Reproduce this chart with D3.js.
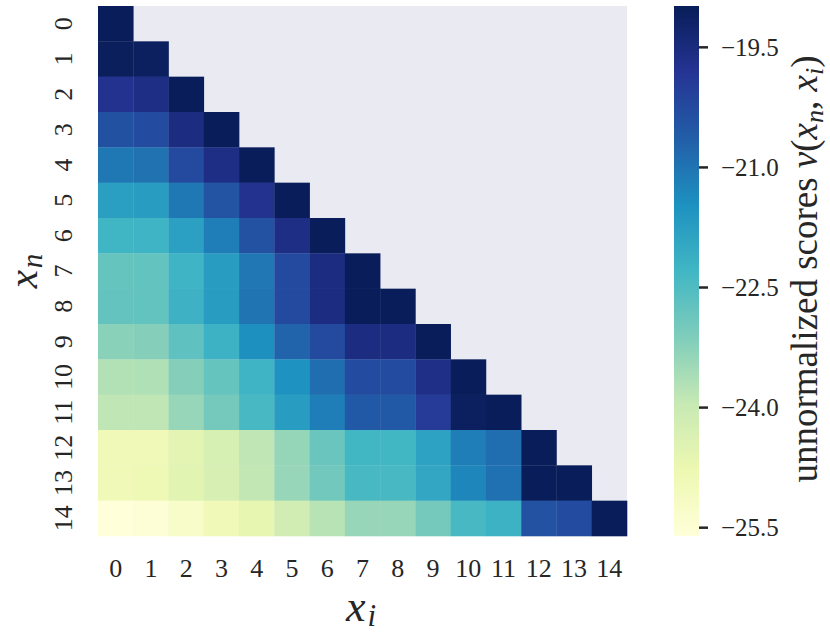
<!DOCTYPE html>
<html><head><meta charset="utf-8">
<script src="https://cdn.jsdelivr.net/npm/d3@7"></script>
<style>body{margin:0;background:#fff}svg{display:block}</style>
</head><body><svg id="c" width="830" height="636"></svg>
<script>
const xLabels = ["0","1","2","3","4","5","6","7","8","9","10","11","12","13","14"];
const yLabels = ["0","1","2","3","4","5","6","7","8","9","10","11","12","13","14"];
// lower-triangular scores, row n, columns i = 0..n
const row0  = [-19.0];
const row1  = [-19.05,-19.1];
const row2  = [-19.75,-19.6,-19.0];
const row3  = [-20.39,-20.3,-19.55,-19.0];
const row4  = [-21.06,-20.97,-20.25,-19.6,-19.0];
const row5  = [-21.79,-21.74,-21.06,-20.45,-19.75,-19.0];
const row6  = [-22.28,-22.25,-21.8,-21.15,-20.4,-19.6,-19.0];
const row7  = [-22.8,-22.75,-22.25,-21.75,-21.05,-20.25,-19.55,-19.0];
const row8  = [-22.78,-22.75,-22.22,-21.75,-21.0,-20.25,-19.55,-19.0,-19.0];
const row9  = [-23.25,-23.2,-22.7,-22.2,-21.45,-20.75,-20.25,-19.55,-19.55,-19.0];
const row10 = [-23.72,-23.68,-23.2,-22.8,-22.25,-21.5,-20.9,-20.3,-20.3,-19.65,-19.0];
const row11 = [-23.88,-23.87,-23.4,-23.0,-22.4,-21.75,-21.15,-20.55,-20.55,-19.95,-19.1,-19.0];
const row12 = [-24.93,-24.9,-24.58,-24.28,-23.88,-23.38,-22.85,-22.32,-22.32,-21.85,-21.15,-20.9,-19.0];
const row13 = [-24.92,-24.88,-24.55,-24.3,-23.9,-23.4,-22.95,-22.4,-22.4,-21.95,-21.3,-20.95,-19.0,-19.0];
const row14 = [-25.6,-25.55,-25.25,-24.95,-24.65,-24.2,-23.78,-23.4,-23.4,-23.0,-22.4,-22.2,-20.4,-20.3,-19.0];
const rows = [row0,row1,row2,row3,row4,row5,row6,row7,row8,row9,row10,row11,row12,row13,row14];
const cbTicks = [-19.5,-21.0,-22.5,-24.0,-25.5];
const vmin = -25.61, vmax = -18.99;
const palette = ["#ffffd9","#edf8b1","#c7e9b4","#7fcdbb","#41b6c4","#1d91c0","#225ea8","#253494","#081d58"];

const FONT = "'Liberation Serif', serif";
const INK = "#262626";
const svg = d3.select("#c");
const L = 98, R = 627, T = 6, B = 536;
const x = d3.scaleBand().domain(xLabels).range([L, R]);
const y = d3.scaleBand().domain(yLabels).range([T, B]);
const color = d3.scaleLinear()
  .domain(palette.map((_, k) => vmin + (vmax - vmin) * k / (palette.length - 1)))
  .range(palette).clamp(true);

svg.append("rect").attr("x", L).attr("y", T).attr("width", R - L).attr("height", B - T).attr("fill", "#eaeaf2");

const cells = [];
rows.forEach((r, n) => r.forEach((v, i) => cells.push({n, i, v})));
svg.append("g").selectAll("rect").data(cells).join("rect")
  .attr("x", d => x(xLabels[d.i])).attr("y", d => y(yLabels[d.n]))
  .attr("width", x.bandwidth() + 0.3).attr("height", y.bandwidth() + 0.3)
  .attr("fill", d => color(d.v));

// x tick labels
svg.append("g").selectAll("text").data(xLabels).join("text")
  .attr("x", d => x(d) + x.bandwidth() / 2).attr("y", 577)
  .attr("text-anchor", "middle").attr("font-size", 26)
  .style("font-family", FONT).attr("fill", INK).text(d => d);
// y tick labels (rotated)
svg.append("g").selectAll("text").data(yLabels).join("text")
  .attr("transform", d => `translate(72,${y(d) + y.bandwidth() / 2}) rotate(-90)`)
  .attr("text-anchor", "middle").attr("font-size", 26)
  .style("font-family", FONT).attr("fill", INK).text(d => d);

// axis titles
const xt = svg.append("text").attr("x", 361).attr("y", 621).attr("text-anchor", "middle")
  .attr("font-size", 44).style("font-family", FONT).attr("fill", INK);
xt.append("tspan").attr("font-style", "italic").text("x");
xt.append("tspan").attr("font-style", "italic").attr("font-size", 31).attr("dx", 2).attr("dy", 5).text("i");
const yt = svg.append("text").attr("transform", `translate(37,271) rotate(-90)`).attr("text-anchor", "middle")
  .attr("font-size", 41).style("font-family", FONT).attr("fill", INK);
yt.append("tspan").attr("font-style", "italic").text("x");
yt.append("tspan").attr("font-style", "italic").attr("font-size", 29).attr("dx", 2).attr("dy", 5).text("n");

// colorbar
const cbx = 674, cbw = 25;
const cy = d3.scaleLinear().domain([vmin, vmax]).range([B, T]);
const defs = svg.append("defs");
const grad = defs.append("linearGradient").attr("id", "g").attr("x1", 0).attr("y1", 1).attr("x2", 0).attr("y2", 0);
palette.forEach((c, k) => grad.append("stop").attr("offset", k / (palette.length - 1)).attr("stop-color", c));
svg.append("rect").attr("x", cbx).attr("y", T).attr("width", cbw).attr("height", B - T).attr("fill", "url(#g)");
const cbAxis = d3.axisRight(cy).tickValues(cbTicks).tickSize(9).tickPadding(13)
  .tickFormat(d => d3.format(".1f")(d).replace("-", "\u2212"));
const ga = svg.append("g").attr("transform", `translate(${cbx + cbw},0)`).call(cbAxis);
ga.select(".domain").remove();
ga.selectAll("line").attr("stroke", INK).attr("stroke-width", 2.5);
ga.selectAll("text").attr("font-size", 25).attr("dy", "0.35em").style("font-family", FONT).attr("fill", INK);

const ct = svg.append("text").attr("transform", `translate(817,269) rotate(-90)`).attr("text-anchor", "middle")
  .attr("font-size", 37).style("font-family", FONT).attr("fill", INK);
ct.append("tspan").text("unnormalized scores ");
ct.append("tspan").attr("font-style", "italic").text("v");
ct.append("tspan").text("(");
ct.append("tspan").attr("font-style", "italic").text("x");
ct.append("tspan").attr("font-style", "italic").attr("font-size", 26).attr("dy", 6).text("n");
ct.append("tspan").attr("dy", -6).text(", ");
ct.append("tspan").attr("font-style", "italic").text("x");
ct.append("tspan").attr("font-style", "italic").attr("font-size", 26).attr("dy", 6).text("i");
ct.append("tspan").attr("dy", -6).text(")");
</script></body></html>
